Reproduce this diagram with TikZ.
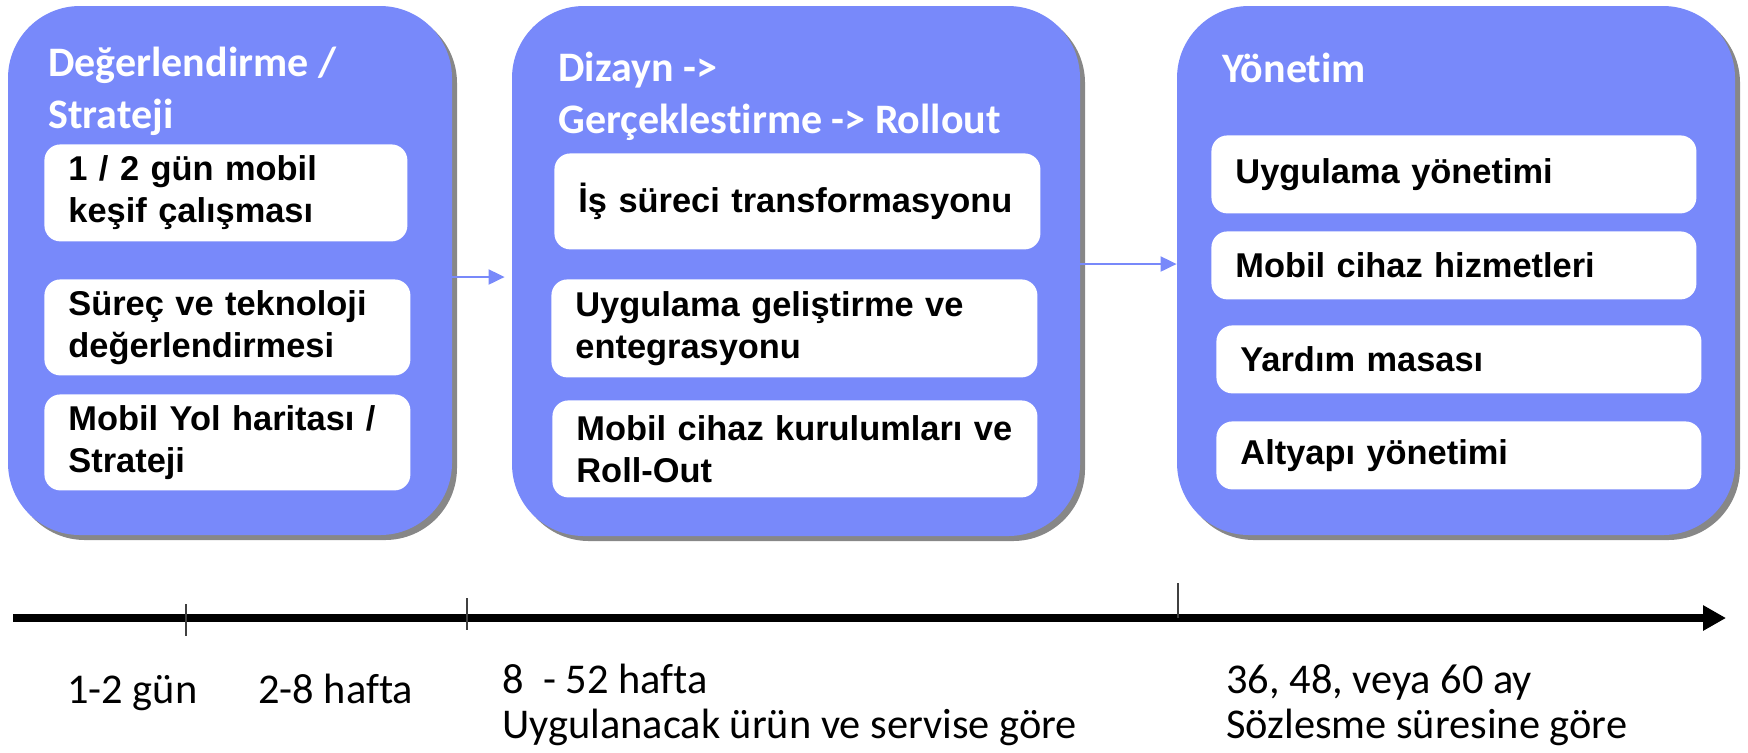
\documentclass[tikz,border=0pt]{standalone}
\usepackage{fontspec}
\setmainfont{Carlito}[Ligatures={TeX,NoCommon}]
\newfontfamily\cardfont{Liberation Sans}
\usepackage{tikz}
\usetikzlibrary{arrows.meta,shadows,calc}
\definecolor{panelblue}{RGB}{120,137,250}

\begin{document}
\begin{tikzpicture}[x=0.5pt, y=-0.5pt,
    panel/.style={fill=panelblue, rounded corners=36pt, inner sep=0,
        drop shadow={shadow xshift=2.5pt, shadow yshift=-2.5pt, fill=black!47, opacity=1}},
    card/.style={fill=white, rounded corners=8pt, anchor=north west, inner xsep=0, inner ysep=0,
        align=left, font=\cardfont\bfseries\fontsize{17.2}{21}\selectfont},
    phasetitle/.style={anchor=base west, inner sep=0, align=left, text=white,
        font=\bfseries\fontsize{21}{26}\selectfont},
    lbl/.style={anchor=base west, inner sep=0, align=left, font=\fontsize{21.2}{22.5}\selectfont},
    flow/.style={-{Triangle[length=8pt,width=7.5pt]}, draw=panelblue, fill=panelblue, line width=1pt},
    tickmark/.style={draw=black!75, line width=0.7pt}]
    \useasboundingbox (0,0) rectangle (1748,752);

    % phase panels
    \node[panel, minimum width=222pt, minimum height=264.5pt] (p1) at (230,270.5) {};
    \node[panel, minimum width=284pt, minimum height=265pt] (p2) at (796,271) {};
    \node[panel, minimum width=279pt, minimum height=264.5pt] (p3) at (1456,270.5) {};

    % titles (base = last line)
    \node[phasetitle] (t1) at (48,128) {Değerlendirme /\\Strateji};
    \node[phasetitle] (t2) at (558,133) {Dizayn ->\\Gerçeklestirme -> Rollout};
    \node[phasetitle] (t3) at (1222,82) {Yönetim};

    % cards, phase 1
    \node[card, minimum width=181.5pt, minimum height=48.5pt, text width=157.5pt] (c11) at (44,144) {1 / 2 gün mobil\\keşif çalışması};
    \node[card, minimum width=183pt, minimum height=48pt, text width=159pt] (c12) at (44,279) {Süreç ve teknoloji\\değerlendirmesi};
    \node[card, minimum width=183pt, minimum height=48pt, text width=159pt] (c13) at (44,394) {Mobil Yol haritası /\\Strateji};

    % cards, phase 2
    \node[card, minimum width=243pt, minimum height=48pt, text width=219pt] (c21) at (554,153) {İş süreci transformasyonu};
    \node[card, minimum width=243pt, minimum height=49pt, text width=219pt] (c22) at (551,279) {Uygulama geliştirme ve\\entegrasyonu};
    \node[card, minimum width=242.5pt, minimum height=48.5pt, text width=218.5pt] (c23) at (552,400) {Mobil cihaz kurulumları ve\\Roll-Out};

    % cards, phase 3
    \node[card, minimum width=242.5pt, minimum height=39pt, text width=218.5pt] (c31) at (1211,135) {Uygulama yönetimi};
    \node[card, minimum width=242.5pt, minimum height=34pt, text width=218.5pt] (c32) at (1211,231) {Mobil cihaz hizmetleri};
    \node[card, minimum width=242.5pt, minimum height=34pt, text width=218.5pt] (c33) at (1216,325) {Yardım masası};
    \node[card, minimum width=242.5pt, minimum height=34pt, text width=218.5pt] (c34) at (1216,421) {Altyapı yönetimi};

    % flow between phases
    \coordinate (a1) at ([yshift=-3.25pt]p1.east);
    \coordinate (a2) at ([yshift=3.5pt]p2.east);
    \draw[flow, shorten >=3.5pt] (a1) -- (a1 -| p2.west);
    \draw[flow] (a2) -- (a2 -| p3.west);

    % time axis
    \coordinate (tstart) at (13,618);
    \coordinate (tend) at (1726,618);
    \draw[line width=4pt, -{Triangle[length=11.5pt,width=12pt]}] (tstart) -- (tend);
    \foreach \x/\a/\b in {186/604/636, 467/598/630, 1178/583/618}
        \draw[tickmark] (\x,\a) -- (\x,\b);

    \node[lbl] (l1) at (67,703) {1-2 gün};
    \node[lbl] (l2) at (258,703) {2-8 hafta};
    \node[lbl] (l3) at (502,738) {8\ \ - 52 hafta\\Uygulanacak ürün ve servise göre};
    \node[lbl] (l4) at (1226,738) {36, 48, veya 60 ay\\Sözlesme süresine göre};
\end{tikzpicture}
\end{document}
